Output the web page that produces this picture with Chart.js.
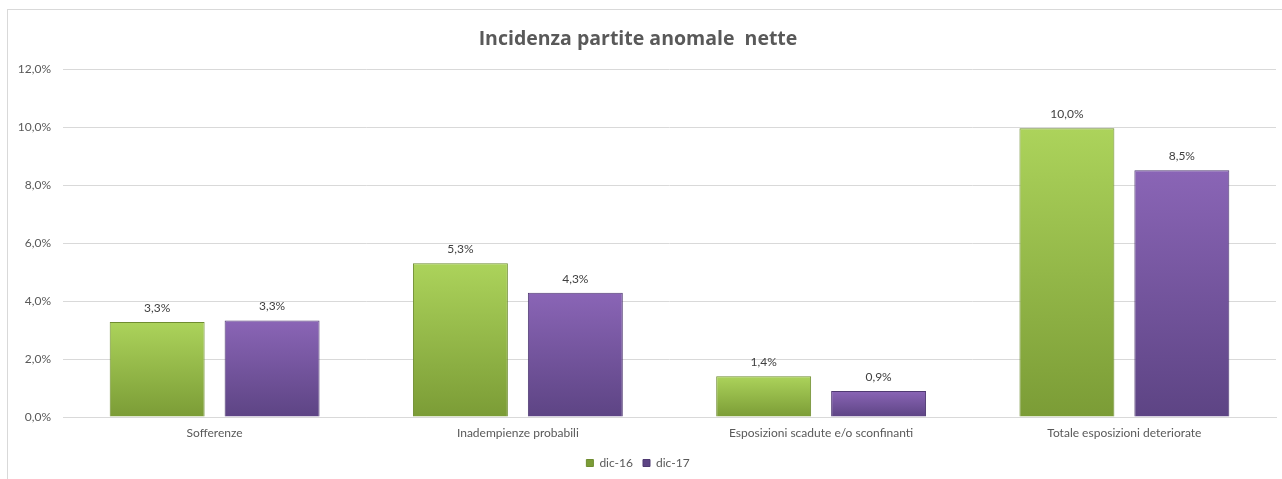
<!DOCTYPE html>
<html>
<head>
<meta charset="utf-8">
<script src="https://cdn.jsdelivr.net/npm/chart.js@4/dist/chart.umd.min.js"></script>
<style>
  body { margin: 0; background: #fff; }
  #wrap { position: relative; width: 1282px; height: 479px; overflow: hidden; }
  #frame { position: absolute; left: 7px; top: 9px; width: 1400px; height: 600px;
           border-left: 1px solid #d9d9d9; border-top: 1px solid #d9d9d9; }
  canvas { position: absolute; left: 0; top: 0; }
</style>
</head>
<body>
<div id="wrap">
  <div id="frame"></div>
  <canvas id="chart" width="1282" height="479"></canvas>
</div>
<script>
// values (percent)
const categories = ["Sofferenze", "Inadempienze probabili", "Esposizioni scadute e/o sconfinanti", "Totale esposizioni deteriorate"];
const dic16 = [3.28, 5.31, 1.41, 9.97];
const dic17 = [3.33, 4.29, 0.90, 8.52];
const yTicks = [0, 2, 4, 6, 8, 10, 12];

const FONT = "Lato, 'Open Sans', sans-serif";

function pct(v) {
  return v.toFixed(1).replace(".", ",") + "%";
}

// vertical gradient per bar, Excel-ish
function barFill(light, dark, solid) {
  return ctx => {
    const chart = ctx.chart;
    const area = chart.chartArea;
    if (!area || ctx.raw == null) return solid;
    const top = chart.scales.y.getPixelForValue(ctx.raw);
    const g = chart.ctx.createLinearGradient(0, top, 0, area.bottom);
    g.addColorStop(0, light);
    g.addColorStop(1, dark);
    return g;
  };
}

// value labels above bars
const valueLabels = {
  id: "valueLabels",
  afterDatasetsDraw(chart) {
    const c = chart.ctx;
    c.save();
    c.font = "12px " + FONT;
    c.fillStyle = "#404040";
    c.textAlign = "center";
    c.textBaseline = "middle";
    chart.data.datasets.forEach((ds, i) => {
      chart.getDatasetMeta(i).data.forEach((bar, j) => {
        c.fillText(pct(ds.data[j]), bar.x, bar.y - 14);
      });
    });
    c.restore();
  }
};

new Chart(document.getElementById("chart"), {
  type: "bar",
  data: {
    labels: categories,
    datasets: [
      {
        label: "dic-16",
        data: dic16,
        backgroundColor: barFill("#acd35b", "#7b9c36", "#9bc34b"),
        borderColor: "#6f8d30",
        borderWidth: 1
      },
      {
        label: "dic-17",
        data: dic17,
        backgroundColor: barFill("#8a65b6", "#5d4484", "#7556a0"),
        borderColor: "#4f3a72",
        borderWidth: 1
      }
    ]
  },
  options: {
    responsive: false,
    animation: false,
    categoryPercentage: 0.758,
    barPercentage: 0.826,
    layout: { padding: { left: 0, right: 6, top: 0, bottom: 0 } },
    plugins: {
      title: {
        display: true,
        text: "Incidenza partite anomale  nette",
        color: "#595959",
        font: { family: "'Open Sans', Lato, sans-serif", size: 19.5, weight: "bold" },
        padding: { top: 28, bottom: 18 }
      },
      legend: {
        position: "bottom",
        labels: {
          color: "#595959",
          font: { family: FONT, size: 12 },
          boxWidth: 7,
          boxHeight: 7,
          padding: 10
        }
      },
      tooltip: { enabled: false }
    },
    scales: {
      x: {
        grid: { display: false, drawTicks: false },
        border: { color: "#d9d9d9" },
        ticks: { color: "#595959", font: { family: FONT, size: 12 }, padding: 9 },
        afterFit: s => { s.height = 30; }
      },
      y: {
        min: 0,
        max: 12,
        afterBuildTicks: s => { s.ticks = yTicks.map(v => ({ value: v })); },
        grid: { color: "#d9d9d9", drawTicks: false },
        border: { display: false },
        ticks: {
          color: "#595959",
          font: { family: FONT, size: 12 },
          padding: 12,
          callback: v => pct(v)
        },
        afterFit: s => { s.width = 63; }
      }
    }
  },
  plugins: [valueLabels]
});
</script>
</body>
</html>
